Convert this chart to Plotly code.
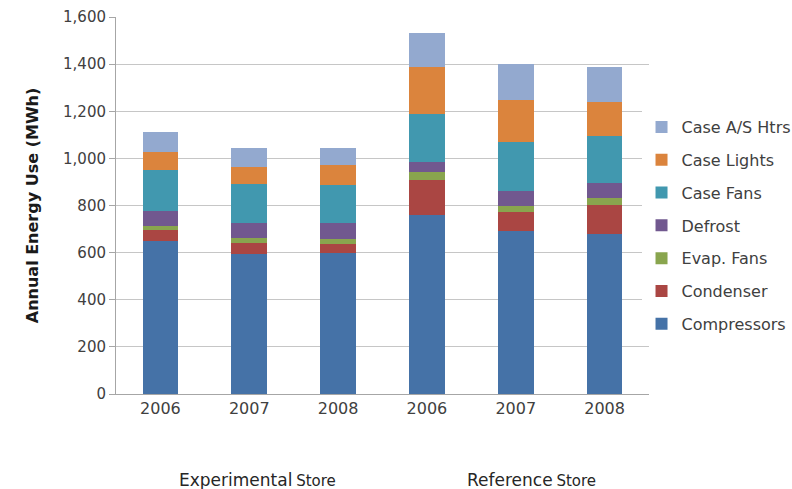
import plotly.graph_objects as go

# Bar positions: three years for each store
years = ["2006", "2007", "2008", "2006", "2007", "2008"]
stores = ["Experimental", "Reference"]

# Annual energy use by end use (MWh), bottom to top of each stack
compressors = [651, 596, 600, 758, 693, 681]
condenser = [47, 44, 38, 150, 81, 121]
evap_fans = [16, 21, 21, 33, 24, 31]
defrost = [64, 65, 65, 44, 64, 63]
case_fans = [173, 167, 162, 205, 208, 199]
case_lights = [76, 69, 86, 197, 178, 145]
case_as_htrs = [86, 84, 72, 144, 152, 148]

series = [
    ("Compressors", compressors, "#4572A7"),
    ("Condenser", condenser, "#AA4643"),
    ("Evap. Fans", evap_fans, "#89A54E"),
    ("Defrost", defrost, "#71588F"),
    ("Case Fans", case_fans, "#4198AF"),
    ("Case Lights", case_lights, "#DB843D"),
    ("Case A/S Htrs", case_as_htrs, "#93A9CF"),
]

FONT = "DejaVu Sans"
positions = list(range(len(years)))

fig = go.Figure()
for i, (name, vals, color) in enumerate(series):
    fig.add_trace(go.Bar(
        x=positions, y=vals, name=name, legendgroup=name,
        legendrank=len(series) - i,
        marker=dict(color=color, line=dict(width=0)),
    ))

fig.update_layout(
    width=792, height=489,
    margin=dict(l=116, r=143, t=17, b=95, autoexpand=False),
    barmode="stack", bargap=0.6,
    plot_bgcolor="white", paper_bgcolor="white",
    font=dict(family=FONT, color="#404040"),
    legend=dict(
        traceorder="grouped", tracegroupgap=9,
        xref="container", yref="container",
        x=0.81, y=0.775, xanchor="left", yanchor="top",
        font=dict(family=FONT, size=16, color="#404040"),
        itemwidth=30,
    ),
    showlegend=True,
)

fig.update_yaxes(
    range=[0, 1600], dtick=200, tickformat=",",
    showgrid=True, gridcolor="#c6c6c6", gridwidth=1,
    showline=True, linecolor="#a6a6a6", linewidth=1,
    ticks="outside", ticklen=6, tickcolor="#a6a6a6",
    tickfont=dict(family=FONT, size=15, color="#404040"),
    zeroline=False,
    title=dict(text="<b>Annual Energy Use (MWh)</b>",
               font=dict(family=FONT, size=16, color="#1a1a1a"), standoff=20),
)

fig.update_xaxes(
    range=[-0.5, len(years) - 0.5],
    tickvals=positions, ticktext=years,
    showline=True, linecolor="#a6a6a6", linewidth=1,
    ticks="", showgrid=False, zeroline=False,
    tickfont=dict(family=FONT, size=16, color="#404040"),
)

# Store labels under each group of years
for label, xc in zip(stores, [0.266, 0.779]):
    fig.add_annotation(
        xref="paper", yref="paper", x=xc, y=-0.228,
        xanchor="center", yanchor="middle", showarrow=False,
        text=f"<span style='font-size:17px'>{label}</span> <span style='font-size:15px'>Store</span>",
        font=dict(family=FONT, color="#262626"),
    )

fig.write_html("out.html")
